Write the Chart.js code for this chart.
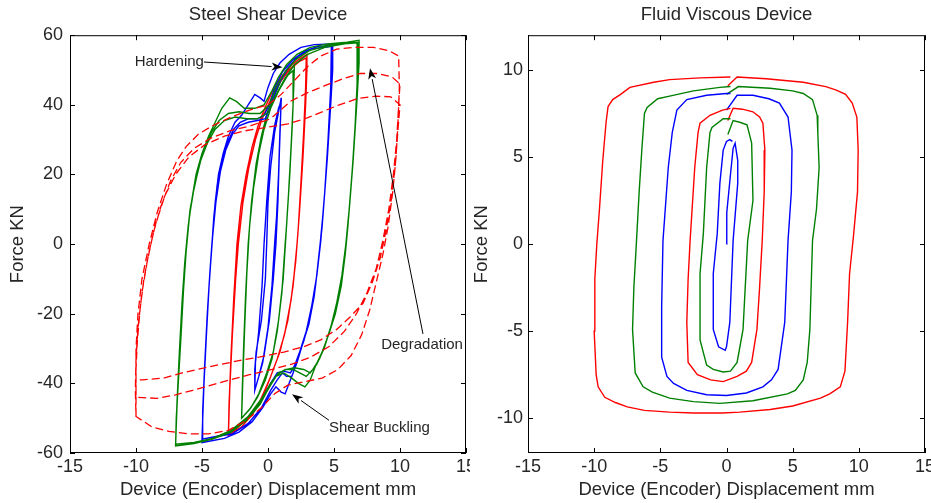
<!DOCTYPE html>
<html>
<head>
<meta charset="utf-8">
<script src="https://cdn.jsdelivr.net/npm/chart.js@4.4.1/dist/chart.umd.min.js"></script>
<style>
  body { margin: 0; background: #fff; }
  #wrap { position: relative; width: 931px; height: 503px; }
  canvas { position: absolute; top: 0; }
</style>
</head>
<body>
<div id="wrap">
  <canvas id="steel" width="470" height="503" style="left:0"></canvas>
  <canvas id="fluid" width="461" height="503" style="left:470px"></canvas>
</div>
<script>
// tick values
const xTicks = [-15, -10, -5, 0, 5, 10, 15];
const steelYTicks = [-60, -40, -20, 0, 20, 40, 60];
const fluidYTicks = [-10, -5, 0, 5, 10];

// Steel shear device: displacement (mm), force (kN), several cycles per amplitude
const steelBlue1 = [
  [-1.0,-42],[-1.0,-36],[-0.9,-31],[-0.5,-22],[-0.2,-10],[-0.1,0],[0.0,12],[0.2,22],[0.5,32],[0.8,38],[1.0,42],
  [0.95,36],[0.85,25],[0.75,12],[0.6,0],[0.4,-10],[0.1,-22],[-0.3,-32],[-0.7,-38],[-1.0,-42],
  [-0.95,-34],[-0.7,-25],[-0.45,-12],[-0.3,0],[-0.1,12],[0.15,25],[0.5,34],[0.8,39],[1.0,41],
  [0.9,32],[0.8,20],[0.65,8],[0.5,0],[0.3,-12],[0.0,-24],[-0.4,-34],[-1.0,-42]
];
const steelGreen2 = [
  [-2.0,-50],[-1.95,-42],[-1.85,-30],[-1.7,-15],[-1.5,0],[-1.25,12],[-0.9,23],[-0.5,31],[-0.1,37],[0.4,42],[1.0,47],[1.6,50],[2.0,51.5],
  [1.95,45],[1.85,35],[1.65,20],[1.4,5],[1.3,0],[1.05,-14],[0.7,-25],[0.3,-33],[-0.2,-39],[-0.8,-44],[-1.4,-47.5],[-2.0,-50],
  [-1.9,-38],[-1.75,-22],[-1.6,-8],[-1.4,5],[-1.1,16],[-0.7,26],[-0.3,33],[0.2,39],[0.8,44],[1.5,48.5],[1.95,50],
  [1.9,40],[1.75,28],[1.55,14],[1.35,2],[1.15,-10],[0.8,-22],[0.4,-31],[-0.1,-37],[-0.7,-43],[-1.3,-47],[-2.0,-50]
];
const steelRed3 = [
  [-3.0,-55],[-2.95,-46],[-2.8,-32],[-2.6,-16],[-2.35,0],[-2.05,11],[-1.65,20],[-1.2,28],[-0.75,34],[-0.25,39],[0.35,44],[1.0,48],[1.8,51.5],[2.5,53.5],[2.95,54.5],
  [2.95,50],[2.85,40],[2.65,25],[2.4,10],[2.2,0],[1.9,-12],[1.5,-22],[0.9,-31],[0.3,-37],[-0.3,-43],[-1.1,-48.5],[-2.0,-52.5],[-3.0,-55],
  [-2.9,-42],[-2.7,-26],[-2.45,-10],[-2.25,0],[-1.9,12],[-1.45,22],[-0.95,30],[-0.45,36],[0.15,41],[0.8,46],[1.6,50],[2.4,52.5],[2.9,53.5],
  [2.85,45],[2.7,32],[2.5,18],[2.3,5],[2.1,-5],[1.75,-16],[1.25,-26],[0.7,-33],[0.1,-39],[-0.6,-45],[-1.5,-50],[-3.0,-55]
];
const steelBlue5 = [
  [-5.0,-57],[-4.95,-48],[-4.8,-35],[-4.6,-20],[-4.4,-8],[-4.25,0],[-4.0,12],[-3.75,20],[-3.4,26],[-3.0,31],[-2.5,35],[-2.0,37],[-1.5,40],[-1.0,43],[-0.6,42],[-0.3,41],
  [0.0,45],[0.4,49],[0.9,52],[1.6,54.5],[2.5,56.5],[3.5,57.3],[4.9,57.5],
  [4.9,50],[4.75,40],[4.5,25],[4.2,10],[3.95,0],[3.6,-12],[3.2,-21],[2.7,-28],[2.2,-33],[1.9,-37],[1.6,-40],[1.3,-43],[1.0,-42.5],[0.6,-41],[0.2,-43],
  [-0.4,-47],[-1.2,-51],[-2.2,-54],[-3.3,-55.8],[-5.0,-57],
  [-4.9,-44],[-4.7,-28],[-4.5,-14],[-4.3,-3],[-4.1,8],[-3.85,17],[-3.5,24],[-3.1,29],[-2.6,33],[-2.1,35],[-1.5,36],[-0.8,36],[-0.3,37],
  [0.1,40],[0.5,45],[1.1,49.5],[1.9,53],[2.8,55.5],[3.8,56.8],[4.85,57],
  [4.85,48],[4.65,35],[4.4,20],[4.1,5],[3.85,-4],[3.5,-15],[3.1,-23],[2.6,-29],[2.2,-34],[1.8,-38],[1.4,-38],[1.1,-37],[0.7,-39],[0.2,-42],
  [-0.5,-47],[-1.5,-51.5],[-2.7,-54.5],[-5.0,-56],
  [-4.85,-40],[-4.65,-25],[-4.45,-11],[-4.2,2],[-3.95,12],[-3.6,21],[-3.2,27],[-2.7,31.5],[-2.2,34],[-1.5,35],[-0.8,35.5],[-0.2,36],
  [0.3,41],[0.8,46],[1.5,50.5],[2.3,54],[3.3,56],[4.8,56.8],
  [4.75,45],[4.55,30],[4.3,15],[4.0,1],[3.7,-9],[3.3,-18],[2.9,-25],[2.4,-31],[2.0,-35],[1.7,-37],[1.2,-36.5],[0.7,-37],[0.2,-40],
  [-0.6,-45.5],[-1.7,-50.5],[-3.0,-54.5],[-5.0,-56]
];
const steelGreen7 = [
  [-7.0,-58],[-6.95,-50],[-6.8,-40],[-6.6,-27],[-6.4,-13],[-6.2,-2],[-6.05,5],[-5.8,12],[-5.45,20],[-5.0,26],[-4.5,31],[-4.0,35],[-3.5,39],[-2.9,42],[-2.4,41],[-1.8,39],[-1.0,39],[-0.3,40],
  [0.3,44],[0.8,48],[1.4,51.5],[2.2,54.5],[3.2,56.5],[4.5,57.5],[6.0,58],[6.9,58.5],
  [6.9,52],[6.75,42],[6.55,30],[6.3,17],[6.05,5],[5.85,-3],[5.55,-12],[5.1,-20],[4.6,-26],[4.1,-31],[3.6,-35],[3.2,-39],[2.8,-41],[2.3,-40],[1.8,-38.5],[1.2,-37],[0.6,-38],[0.1,-41],
  [-0.6,-46],[-1.6,-50.5],[-2.8,-54],[-4.2,-56],[-5.6,-57.3],[-7.0,-58],
  [-6.9,-46],[-6.75,-34],[-6.55,-20],[-6.35,-8],[-6.15,0],[-5.95,8],[-5.65,15],[-5.25,22],[-4.8,28],[-4.3,32],[-3.7,35.5],[-3.0,37.5],[-2.2,38],[-1.4,37.5],[-0.6,37.5],
  [0.1,40],[0.6,45],[1.3,49.5],[2.1,53],[3.1,55.5],[4.4,57],[5.8,57.8],[6.85,58],
  [6.8,48],[6.65,36],[6.45,24],[6.2,12],[5.95,1],[5.7,-7],[5.35,-15],[4.9,-22],[4.4,-28],[3.9,-33],[3.4,-36],[2.9,-38],[2.4,-37],[1.9,-36],[1.3,-36],[0.7,-37.5],[0.2,-40.5],
  [-0.5,-45],[-1.5,-50],[-2.7,-53.5],[-4.0,-55.7],[-5.5,-57],[-7.0,-57.5],
  [-6.85,-42],[-6.7,-30],[-6.5,-16],[-6.3,-5],[-6.1,3],[-5.9,10],[-5.55,17],[-5.1,24],[-4.6,29],[-4.0,33],[-3.3,35.5],[-2.5,36.5],[-1.6,36],[-0.8,36],[-0.1,37.5],
  [0.5,42],[1.2,47],[2.0,51.5],[3.0,54.5],[4.3,56.5],[5.8,57.5],[6.8,57.8],
  [6.75,46],[6.6,34],[6.4,22],[6.15,10],[5.9,0],[5.6,-9],[5.2,-17],[4.75,-24],[4.25,-30],[3.7,-34.5],[3.2,-37],[2.7,-36],[2.0,-35.5],[1.4,-36],[0.8,-37],[0.2,-40],
  [-0.5,-44.5],[-1.5,-49.5],[-2.8,-53.5],[-4.2,-55.8],[-5.6,-57],[-7.0,-57.5]
];
const steelRed10 = [
  [-10.0,-49.5],[-10.0,-40],[-10.0,-30],[-9.85,-20],[-9.55,-10],[-9.0,0],[-8.4,9],[-7.7,17],[-6.9,24],[-6.2,28],[-5.3,31.5],[-4.2,34],[-2.8,36.5],[-1.4,38.5],[0.0,40],
  [1.0,43],[2.0,47],[3.0,51],[4.0,54],[5.2,56],[6.5,56.5],[8.0,56.5],[9.2,55.5],[9.9,54],
  [9.95,45],[9.85,35],[9.7,25],[9.45,15],[9.1,5],[8.7,-3],[8.2,-11],[7.7,-19],[7.1,-26],[6.3,-32],[5.3,-36],[4.1,-38.5],[2.8,-39.5],[1.5,-40.5],[0.5,-43],
  [-0.5,-47],[-1.6,-50.5],[-3.0,-53.5],[-4.5,-54.5],[-6.0,-54.5],[-7.5,-53.8],[-8.8,-52.5],[-10.0,-49.5],
  [-10.05,-42],[-10.0,-33],[-9.85,-24],[-9.55,-14],[-9.15,-5],[-8.7,3],[-8.1,11],[-7.4,18],[-6.6,23.5],[-5.6,27.5],[-4.3,30.5],[-2.9,32.5],[-1.3,34],[0.2,36],
  [1.7,41],[3.0,43.5],[4.3,45.5],[5.7,47.5],[7.0,49],[8.3,49],[9.4,48],[10.0,46],
  [9.9,40],[9.75,30],[9.5,20],[9.15,10],[8.7,1],[8.2,-7],[7.5,-14],[6.7,-20],[5.8,-25],[4.6,-29.5],[3.2,-32.5],[1.8,-34.5],[0.3,-36],
  [-1.4,-37.5],[-2.9,-39],[-4.3,-40.5],[-5.7,-42],[-7.0,-43.3],[-8.4,-44.3],[-10.0,-44],
  [-10.0,-36],[-9.9,-28],[-9.7,-19],[-9.4,-10],[-9.0,-2],[-8.5,6],[-7.8,14],[-7.0,20],[-6.0,25],[-4.8,28.5],[-3.3,31],[-1.8,32.5],[0.0,33.6],
  [1.5,34.5],[2.8,36],[4.1,38],[5.4,40],[6.8,41.8],[8.2,42.5],[9.3,42.3],[10.0,40],
  [9.85,33],[9.65,23],[9.35,13],[8.95,4],[8.5,-4],[7.9,-11],[7.2,-17],[6.2,-21],[5.2,-24.5],[4.0,-27.5],[2.7,-29.5],[1.2,-31],
  [-0.6,-32.4],[-2.0,-33.3],[-3.5,-34.5],[-4.9,-35.6],[-6.5,-37],[-7.9,-38.5],[-9.5,-39],[-10.0,-39]
];

// Fluid viscous device: displacement (mm), force (kN), one growing cycle per amplitude
const fluidBlue1 = [
  [0.0,0.0],[0.02,1.8],[0.3,4.0],[0.5,5.5],[0.65,5.8],[0.85,4.8],[0.85,3.5],[0.5,0.2],[0.25,-4.5],[0.0,-5.9],[-0.1,-6.1],
  [-0.6,-5.9],[-1.0,-4.9],[-1.0,-1.7],[-0.7,0.6],[-0.5,3.5],[-0.25,5.4],[0.0,5.9],[0.25,6.0],[0.45,5.9]
];
const fluidGreen2 = [
  [0.1,6.3],[0.5,7.1],[1.0,7.0],[1.55,6.85],[1.9,5.8],[2.0,2.5],[1.6,0.2],[1.25,-4.9],[0.8,-6.8],[0.3,-7.3],[-0.25,-7.35],
  [-1.0,-7.2],[-1.5,-6.95],[-2.0,-5.5],[-2.0,-1.7],[-1.75,0.6],[-1.5,4.4],[-1.25,6.4],[-1.1,6.7],[-0.25,7.2],[0.3,7.2]
];
const fluidRed3 = [
  [0.1,7.1],[0.5,7.8],[1.2,7.75],[2.0,7.6],[2.5,7.3],[2.75,6.95],[2.9,5.4],[2.85,3.0],[2.7,0.2],[2.5,-2.5],[2.3,-4.9],
  [1.9,-6.8],[1.5,-7.3],[0.8,-7.6],[-0.25,-7.9],[-1.2,-7.8],[-2.2,-7.5],[-2.9,-6.8],[-3.0,-4.5],[-2.9,-2.0],[-2.75,0.2],
  [-2.4,4.4],[-2.15,6.4],[-2.0,6.95],[-1.25,7.4],[-0.3,7.7],[0.3,7.8]
];
const fluidBlue5 = [
  [0.0,7.7],[0.8,8.55],[2.0,8.55],[3.2,8.35],[4.0,8.1],[4.65,7.3],[4.95,5.4],[4.9,3.0],[4.65,0.2],[4.4,-4.5],[3.9,-7.2],
  [3.4,-7.8],[2.75,-8.2],[1.5,-8.55],[0.0,-8.7],[-1.5,-8.65],[-3.0,-8.4],[-4.0,-8.0],[-4.5,-7.6],[-4.9,-6.5],[-4.9,-3.6],[-4.8,0.2],
  [-4.4,4.4],[-4.1,6.4],[-3.75,7.7],[-3.0,8.3],[-1.5,8.55],[0.0,8.65],[0.3,8.65]
];
const fluidGreen7 = [
  [0.0,8.6],[0.9,9.05],[3.3,8.95],[5.0,8.8],[5.8,8.65],[6.5,8.3],[6.85,7.4],[6.9,6.4],[7.0,4.4],[6.8,2.0],[6.5,0.2],
  [6.3,-4.9],[6.1,-6.8],[5.8,-7.8],[5.2,-8.4],[4.6,-8.6],[2.0,-9.0],[-0.5,-9.15],[-2.5,-9.05],[-4.3,-8.85],[-5.6,-8.5],[-6.3,-8.2],
  [-6.9,-7.4],[-7.1,-4.9],[-7.0,-2.5],[-6.8,0.2],[-6.6,3.0],[-6.4,5.4],[-6.2,7.5],[-6.0,7.85],[-5.2,8.35],[-4.3,8.5],[-2.5,8.8],
  [-0.5,9.0],[0.3,9.05]
];
const fluidRed10 = [
  [0.1,9.1],[0.8,9.6],[3.0,9.5],[5.8,9.3],[7.5,9.05],[8.3,8.85],[9.0,8.6],[9.5,8.1],[9.85,7.3],[9.95,5.4],[9.9,3.0],
  [9.6,0.5],[9.3,-1.7],[9.15,-4.5],[9.0,-6.6],[8.95,-7.3],[8.6,-8.2],[7.8,-8.6],[7.1,-8.85],[5.0,-9.3],[3.3,-9.5],[1.0,-9.65],
  [-0.3,-9.7],[-2.5,-9.7],[-4.3,-9.65],[-6.2,-9.55],[-7.5,-9.35],[-8.4,-9.1],[-9.2,-8.8],[-9.7,-8.2],[-9.85,-7.5],[-10.0,-5.0],
  [-9.95,-2.0],[-9.8,0.0],[-9.6,2.0],[-9.35,4.8],[-9.1,7.0],[-8.95,7.9],[-8.6,8.3],[-8.0,8.6],[-7.3,9.0],[-5.5,9.3],[-4.3,9.45],
  [-2.0,9.55],[0.3,9.6]
];

const RED = '#ff0000', GREEN = '#008000', BLUE = '#0000ff';
const TEXT = '#262626';
const FAMILY = "'Liberation Sans', Arial, sans-serif";

function loop(points, color, dashed) {
  return {
    data: points,
    showLine: true,
    borderColor: color,
    borderWidth: dashed ? 1.3 : 1.4,
    borderDash: dashed ? [8, 4] : [],
    pointRadius: 0,
    tension: 0
  };
}

// box round the plot area with inward ticks on all four sides
const boxTicks = {
  id: 'boxTicks',
  afterDraw(chart) {
    const {ctx, chartArea: a, scales: {x, y}} = chart;
    const len = 5;
    ctx.save();
    ctx.strokeStyle = '#000';
    ctx.lineWidth = 1;
    ctx.strokeRect(a.left + 0.5, a.top + 0.5, a.width - 1, a.height - 1);
    ctx.beginPath();
    x.ticks.forEach(t => {
      const px = Math.round(x.getPixelForValue(t.value)) + 0.5;
      ctx.moveTo(px, a.bottom); ctx.lineTo(px, a.bottom - len);
      ctx.moveTo(px, a.top); ctx.lineTo(px, a.top + len);
    });
    y.ticks.forEach(t => {
      const py = Math.round(y.getPixelForValue(t.value)) + 0.5;
      ctx.moveTo(a.left, py); ctx.lineTo(a.left + len, py);
      ctx.moveTo(a.right, py); ctx.lineTo(a.right - len, py);
    });
    ctx.stroke();
    ctx.restore();
  }
};

function drawArrow(ctx, x0, y0, x1, y1) {
  const ang = Math.atan2(y1 - y0, x1 - x0);
  const len = 11, half = 4;
  const bx = x1 - len * Math.cos(ang), by = y1 - len * Math.sin(ang);
  ctx.beginPath();
  ctx.moveTo(x0, y0);
  ctx.lineTo(bx, by);
  ctx.stroke();
  ctx.beginPath();
  ctx.moveTo(x1, y1);
  ctx.lineTo(bx + half * Math.sin(ang), by - half * Math.cos(ang));
  ctx.lineTo(bx + 3 * Math.cos(ang), by + 3 * Math.sin(ang));
  ctx.lineTo(bx - half * Math.sin(ang), by + half * Math.cos(ang));
  ctx.closePath();
  ctx.fill();
}

// text labels with arrows, placed in data units
const notes = {
  id: 'notes',
  afterDatasetsDraw(chart, args, opts) {
    const {ctx, scales: {x, y}} = chart;
    ctx.save();
    ctx.font = `15px ${FAMILY}`;
    ctx.strokeStyle = '#000';
    ctx.lineWidth = 1;
    opts.items.forEach(n => {
      ctx.fillStyle = '#000';
      drawArrow(ctx, x.getPixelForValue(n.from[0]), y.getPixelForValue(n.from[1]),
                x.getPixelForValue(n.tip[0]), y.getPixelForValue(n.tip[1]));
      ctx.fillStyle = TEXT;
      ctx.textAlign = n.align;
      ctx.textBaseline = 'middle';
      ctx.fillText(n.text, x.getPixelForValue(n.at[0]), y.getPixelForValue(n.at[1]));
    });
    ctx.restore();
  }
};

function options(title, yMin, yMax, yTicks, yWidth, yLabelPad, yTitlePad, rightPad) {
  const tickFont = {family: FAMILY, size: 18};
  const labelFont = {family: FAMILY, size: 18.5};
  return {
    responsive: false,
    animation: false,
    devicePixelRatio: 1,
    layout: {padding: {left: 0, right: rightPad, top: 0, bottom: 0}},
    plugins: {
      legend: {display: false},
      tooltip: {enabled: false},
      title: {
        display: true, text: title, color: TEXT, fullSize: false,
        font: {family: FAMILY, size: 18.5, weight: 'normal'},
        padding: {top: 4, bottom: 9}
      }
    },
    scales: {
      x: {
        type: 'linear', min: -15, max: 15,
        grid: {display: false, drawTicks: false},
        border: {display: false},
        ticks: {color: TEXT, font: tickFont, padding: 3, maxRotation: 0, autoSkip: false},
        title: {display: true, text: 'Device (Encoder) Displacement mm', color: TEXT, font: labelFont,
                padding: {top: 0, bottom: 2}},
        afterBuildTicks: s => { s.ticks = xTicks.map(v => ({value: v})); },
        afterFit: s => { s.height = 50; s.paddingLeft = 0; s.paddingRight = 0; }
      },
      y: {
        type: 'linear', min: yMin, max: yMax,
        grid: {display: false, drawTicks: false},
        border: {display: false},
        ticks: {color: TEXT, font: tickFont, padding: yLabelPad, autoSkip: false},
        title: {display: true, text: 'Force KN', color: TEXT, font: labelFont,
                padding: {top: yTitlePad, bottom: 0}},
        afterBuildTicks: s => { s.ticks = yTicks.map(v => ({value: v})); },
        afterFit: s => { s.width = yWidth; s.paddingTop = 0; s.paddingBottom = 0; }
      }
    }
  };
}

const steelOptions = options('Steel Shear Device', -60, 60, steelYTicks, 70, 7, 7, 4);
steelOptions.plugins.notes = {
  items: [
    {text: 'Hardening', at: [-10.1, 52.3], align: 'left', from: [-4.85, 52.3], tip: [1.1, 50.8]},
    {text: 'Degradation', at: [11.67, -28.9], align: 'center', from: [11.74, -25.8], tip: [7.73, 50.5]},
    {text: 'Shear Buckling', at: [4.62, -52.8], align: 'left', from: [4.62, -50.6], tip: [1.82, -43.1]}
  ]
};

new Chart(document.getElementById('steel'), {
  type: 'scatter',
  data: {
    datasets: [
      loop(steelRed10, RED, true),
      loop(steelGreen7, GREEN),
      loop(steelBlue5, BLUE),
      loop(steelRed3, RED),
      loop(steelGreen2, GREEN),
      loop(steelBlue1, BLUE)
    ]
  },
  options: steelOptions,
  plugins: [boxTicks, notes]
});

new Chart(document.getElementById('fluid'), {
  type: 'scatter',
  data: {
    datasets: [
      loop(fluidBlue1, BLUE),
      loop(fluidGreen2, GREEN),
      loop(fluidRed3, RED),
      loop(fluidBlue5, BLUE),
      loop(fluidGreen7, GREEN),
      loop(fluidRed10, RED)
    ]
  },
  options: options('Fluid Viscous Device', -12, 12, fluidYTicks, 58, 5, 1, 6),
  plugins: [boxTicks]
});
</script>
</body>
</html>
